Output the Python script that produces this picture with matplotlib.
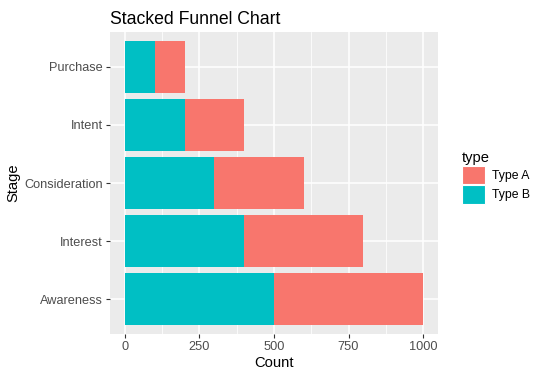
import numpy as np
import matplotlib.pyplot as plt
from matplotlib.patches import Patch

plt.rcParams['font.family'] = ['Liberation Sans', 'DejaVu Sans']

stages = ['Awareness', 'Interest', 'Consideration', 'Intent', 'Purchase']
type_b = [500, 400, 300, 200, 100]
type_a = [500, 400, 300, 200, 100]
x_ticks = [0, 250, 500, 750, 1000]

col_a = '#F8766D'
col_b = '#00BFC4'
tick_col = '#4D4D4D'

fig = plt.figure(figsize=(5.42, 3.77), dpi=100)
ax = fig.add_axes([110 / 542, 1 - 334 / 377, 328 / 542, 302 / 377])
ax.set_facecolor('#EBEBEB')

y = np.arange(1, len(stages) + 1)
ax.barh(y, type_b, height=0.9, color=col_b, zorder=3)
ax.barh(y, type_a, left=type_b, height=0.9, color=col_a, zorder=3)

total_max = max(a + b for a, b in zip(type_a, type_b))
ax.set_xlim(-0.05 * total_max, 1.05 * total_max)
ax.set_ylim(0.4, len(stages) + 0.6)

ax.set_xticks(x_ticks)
ax.set_xticks([125, 375, 625, 875], minor=True)
ax.set_yticks(y)
ax.set_yticklabels(stages)
ax.grid(True, which='major', color='white', linewidth=1.1, zorder=0)
ax.grid(True, which='minor', axis='x', color='white', linewidth=0.55, zorder=0)
ax.set_axisbelow(True)

for s in ax.spines.values():
    s.set_visible(False)
ax.tick_params(axis='both', which='major', length=3, width=0.8, color='#333333',
               labelcolor=tick_col, labelsize=9.2, pad=2)
ax.tick_params(axis='both', which='minor', length=0)

ax.set_xlabel('Count', fontsize=10.6, labelpad=2)
ax.set_ylabel('Stage', fontsize=10.6, labelpad=3)
ax.set_title('Stacked Funnel Chart', fontsize=12.7, loc='left', pad=6)

# legend on the right, ggplot-like
handles = [Patch(facecolor=col_a, edgecolor='white', linewidth=0.8, label='Type A'),
           Patch(facecolor=col_b, edgecolor='white', linewidth=0.8, label='Type B')]
leg = fig.legend(handles=handles, title='type', loc='upper left',
                 bbox_to_anchor=(457 / 542, 1 - 146 / 377), frameon=False,
                 fontsize=8.8, title_fontsize=10.6, handlelength=1.9,
                 handleheight=1.9, handletextpad=0.6, labelspacing=0.1,
                 borderaxespad=0)
leg._legend_box.align = 'left'

fig.savefig('out.png', dpi=100)
